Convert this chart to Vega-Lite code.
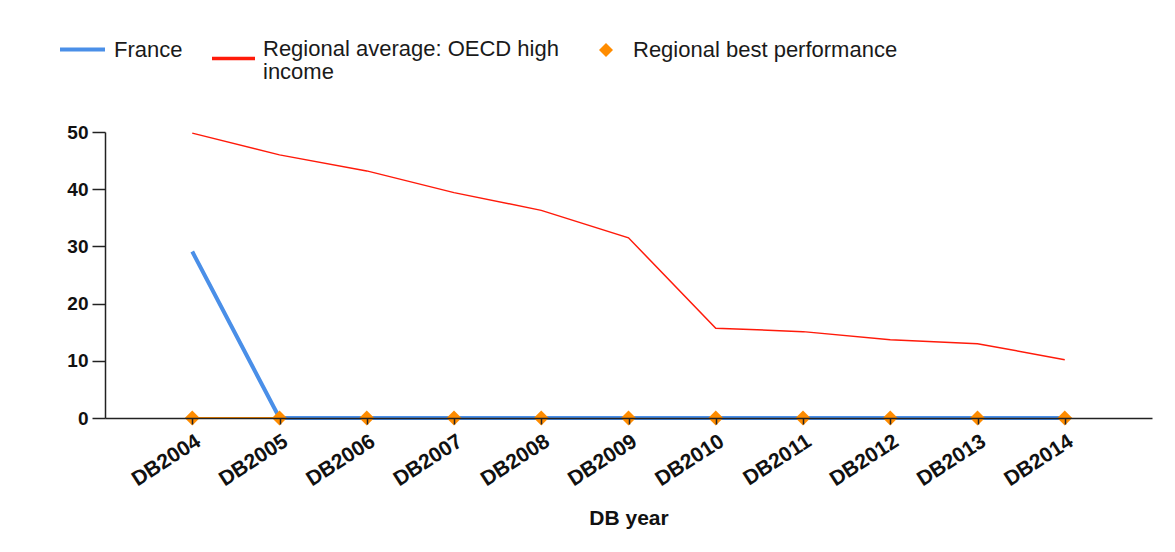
{
  "$schema": "https://vega.github.io/schema/vega-lite/v6.json",
  "width": 1047,
  "height": 286,
  "autosize": "none",
  "padding": {"left": 105, "top": 132, "right": 23, "bottom": 134},
  "background": "white",
  "config": {
    "view": {"stroke": null},
    "font": "Liberation Sans",
    "legend": {"padding": 0, "labelFontSize": 22, "labelColor": "#1a1a1a", "labelFont": "Liberation Sans", "symbolType": "stroke", "labelLimit": 500}
  },
  "data": {
    "values": [
      {"year": "DB2004", "series": "France", "value": 29.1},
      {"year": "DB2005", "series": "France", "value": 0},
      {"year": "DB2006", "series": "France", "value": 0},
      {"year": "DB2007", "series": "France", "value": 0},
      {"year": "DB2008", "series": "France", "value": 0},
      {"year": "DB2009", "series": "France", "value": 0},
      {"year": "DB2010", "series": "France", "value": 0},
      {"year": "DB2011", "series": "France", "value": 0},
      {"year": "DB2012", "series": "France", "value": 0},
      {"year": "DB2013", "series": "France", "value": 0},
      {"year": "DB2014", "series": "France", "value": 0},
      {"year": "DB2004", "series": "Regional average: OECD high income", "value": 49.8},
      {"year": "DB2005", "series": "Regional average: OECD high income", "value": 46.0},
      {"year": "DB2006", "series": "Regional average: OECD high income", "value": 43.2},
      {"year": "DB2007", "series": "Regional average: OECD high income", "value": 39.4},
      {"year": "DB2008", "series": "Regional average: OECD high income", "value": 36.3},
      {"year": "DB2009", "series": "Regional average: OECD high income", "value": 31.5},
      {"year": "DB2010", "series": "Regional average: OECD high income", "value": 15.7},
      {"year": "DB2011", "series": "Regional average: OECD high income", "value": 15.1},
      {"year": "DB2012", "series": "Regional average: OECD high income", "value": 13.7},
      {"year": "DB2013", "series": "Regional average: OECD high income", "value": 13.0},
      {"year": "DB2014", "series": "Regional average: OECD high income", "value": 10.2},
      {"year": "DB2004", "series": "Regional best performance", "value": 0},
      {"year": "DB2005", "series": "Regional best performance", "value": 0},
      {"year": "DB2006", "series": "Regional best performance", "value": 0},
      {"year": "DB2007", "series": "Regional best performance", "value": 0},
      {"year": "DB2008", "series": "Regional best performance", "value": 0},
      {"year": "DB2009", "series": "Regional best performance", "value": 0},
      {"year": "DB2010", "series": "Regional best performance", "value": 0},
      {"year": "DB2011", "series": "Regional best performance", "value": 0},
      {"year": "DB2012", "series": "Regional best performance", "value": 0},
      {"year": "DB2013", "series": "Regional best performance", "value": 0},
      {"year": "DB2014", "series": "Regional best performance", "value": 0}
    ]
  },
  "encoding": {
    "x": {
      "field": "year",
      "type": "ordinal",
      "scale": {"type": "point", "padding": 1},
      "axis": {
        "title": "DB year",
        "titleFontSize": 21,
        "titleFontWeight": "bold",
        "titleColor": "#111",
        "titlePadding": 18,
        "labelAngle": -33,
        "labelFontSize": 21,
        "labelFontWeight": "bold",
        "labelColor": "#111",
        "labelPadding": 6,
        "tickSize": 6,
        "tickColor": "#222",
        "tickWidth": 1.5,
        "domainColor": "#222",
        "domainWidth": 1.5,
        "zindex": 2
      }
    },
    "y": {
      "field": "value",
      "type": "quantitative",
      "scale": {"domain": [0, 50], "nice": false},
      "axis": {
        "title": null,
        "values": [0, 10, 20, 30, 40, 50],
        "grid": false,
        "labelFontSize": 19,
        "labelFontWeight": "bold",
        "labelColor": "#111",
        "labelPadding": 4,
        "tickSize": 13,
        "tickColor": "#222",
        "tickWidth": 1.5,
        "domainColor": "#222",
        "domainWidth": 1.5,
        "zindex": 2
      }
    }
  },
  "layer": [
    {
      "transform": [{"filter": "datum.series === 'Regional best performance'"}],
      "mark": {"type": "line", "color": "#ff8c00", "strokeWidth": 2}
    },
    {
      "transform": [{"filter": "datum.series === 'Regional average: OECD high income'"}],
      "mark": {"type": "line", "strokeWidth": 1.5},
      "encoding": {
        "color": {
          "datum": "Regional average: OECD high income",
          "scale": {"domain": ["Regional average: OECD high income"], "range": ["#ff1a0a"]},
          "legend": {
            "title": null,
            "orient": "none",
            "legendX": 105,
            "legendY": -97,
            "symbolSize": 1849,
            "symbolStrokeWidth": 3.5,
            "labelOffset": 6,
            "labelExpr": "['Regional average: OECD high', 'income']",
            "encode": {"labels": {"update": {"dy": {"value": -10}, "lineHeight": {"value": 23}}}}
          }
        }
      }
    },
    {
      "transform": [{"filter": "datum.series === 'France'"}],
      "mark": {"type": "line", "strokeWidth": 4},
      "encoding": {
        "color": {
          "datum": "France",
          "scale": {"domain": ["France"], "range": ["#4a8fe8"]},
          "legend": {
            "title": null,
            "orient": "none",
            "legendX": -47,
            "legendY": -107,
            "symbolSize": 2025,
            "symbolStrokeWidth": 4,
            "labelOffset": 7
          }
        }
      }
    },
    {
      "transform": [{"filter": "datum.series === 'Regional best performance'"}],
      "mark": {"type": "point", "shape": "diamond", "filled": true, "size": 225, "opacity": 1},
      "encoding": {
        "color": {
          "datum": "Regional best performance",
          "scale": {"domain": ["Regional best performance"], "range": ["#ff8c00"]},
          "legend": {
            "title": null,
            "orient": "none",
            "legendX": 490,
            "legendY": -93,
            "symbolType": "diamond",
            "symbolSize": 196,
            "symbolFillColor": "#ff8c00",
            "symbolStrokeWidth": 0,
            "labelOffset": 16
          }
        }
      }
    }
  ],
  "resolve": {"scale": {"color": "independent"}}
}
